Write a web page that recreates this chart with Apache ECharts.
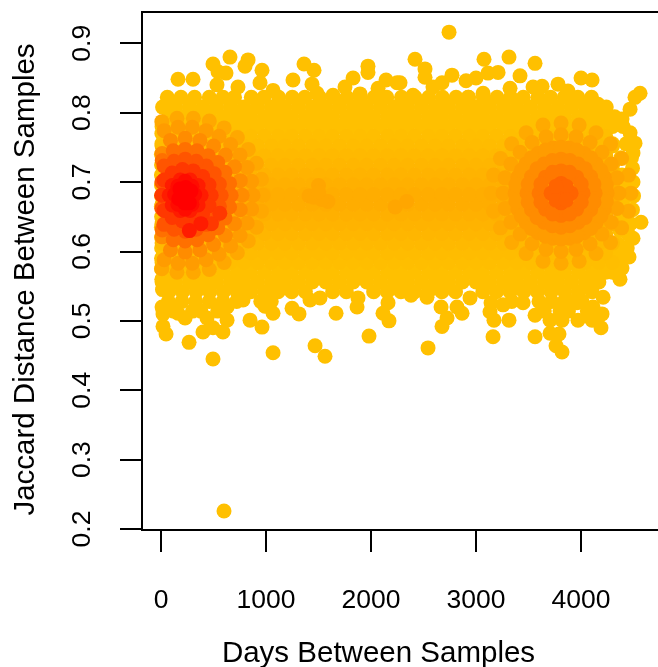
<!DOCTYPE html>
<html><head><meta charset="utf-8">
<style>html,body{margin:0;padding:0;background:#fff}#c{width:658px;height:667px}</style>
<script src="https://cdn.jsdelivr.net/npm/echarts@6/dist/echarts.min.js"></script>
</head><body><div id="c"></div>
<script>
const xTicks=[0,1000,2000,3000,4000];
const yTicks=[0.2,0.3,0.4,0.5,0.6,0.7,0.8,0.9];

// scattered outlying samples: [days, jaccard]
const outliers=[[600,.226],[162,.848],[305,.848],[495,.870],[657,.880],[829,.876],[800,.867],[543,.859],[619,.857],[962,.861],[533,.840],[943,.843],[1362,.870],[1457,.861],[1257,.847],[1438,.841],[1829,.850],[1971,.867],[1971,.858],[1752,.837],[1895,.827],[2143,.847],[2248,.843],[2067,.835],[733,.837],[1067,.832],[1638,.825],[1486,.828],
[2743,.916],[2419,.877],[2514,.863],[2514,.851],[3076,.877],[3314,.880],[3562,.871],[2771,.854],[2276,.843],[2676,.843],[2905,.846],[3000,.850],[3210,.858],[3114,.857],[3419,.853],[4000,.850],[4105,.847],[4562,.828],[4514,.822],[4467,.805],[4390,.791],[4162,.812],[3781,.841],[3629,.838],[3543,.837],[3876,.831],[3067,.828],[2924,.822],[3324,.835],[2590,.837],[2400,.825],[3962,.818],[4514,.756],[4495,.742],[4467,.771],
[4571,.642],[4495,.619],[4457,.592],[4390,.576],[4371,.560],[4200,.510],[4190,.490],[4105,.501],[3971,.501],[3819,.501],[3705,.501],[3705,.482],[3790,.481],[3762,.464],[3819,.455],[3562,.477],[3562,.508],[3314,.501],[3171,.501],[3162,.477],[3133,.513],[3143,.526],[3257,.523],[2676,.492],[2724,.504],[2867,.511],[2819,.520],[2667,.520],[2543,.461],[2943,.533],[2381,.537],[2533,.534],[3448,.526],[4210,.534],[4114,.520],[3962,.526],
[48,.481],[19,.492],[19,.510],[229,.504],[267,.469],[400,.484],[590,.484],[495,.490],[629,.501],[495,.445],[438,.504],[848,.501],[962,.491],[1067,.511],[990,.521],[1067,.454],[1314,.510],[1467,.464],[1562,.449],[1667,.511],[1867,.520],[1876,.533],[1981,.478],[2114,.511],[2171,.500],[2162,.526],[1248,.518],[1419,.530],[1514,.533],[781,.530],[629,.520],[10,.520],[162,.511],
[8,.770],[8,.755],[4,.740],[6,.725],[4,.710],[5,.695],[5,.680],[4,.665],[6,.650],[4,.635],[5,.620],[6,.605],[5,.590],[4,.575],[8,.560],[14,.545],[90,.740],[95,.610],[4480,.735],[4490,.720],[4495,.700],[4500,.680],[4490,.660],[4470,.640],[4450,.625],[4440,.605],[4380,.735],[4390,.710],[4400,.690],[4395,.670],[4385,.650],[4370,.630],[4360,.610],[4345,.590],[4430,.755],[4300,.755],[4330,.600]];

// days of the samples in each cloud row (two staggered sets)
const evenDays=[10,140,270,400,530,660,790,920,1050,1180,1310,1440,1570,1700,1830,1960,2090,2220,2350,2480,2610,2740,2870,3000,3130,3260,3390,3520,3650,3780,3910,4040,4170,4300];
const oddDays=[75,205,335,465,595,725,855,985,1115,1245,1375,1505,1635,1765,1895,2025,2155,2285,2415,2545,2675,2805,2935,3065,3195,3325,3455,3585,3715,3845,3975,4105,4235];
// outer rows: [jaccard, days...]
const rowsPale=[
[.822,60,190,320,460,590,700,860,980,1120,1250,1370,1510,1640,1770,1900,2030,2150,2290,2420,2550,2680,2810,2930,3070,3200,3330,3450,3590,3710,3840,3970,4100],
[.808,15,140,270,400,530,660,790,920,1050,1180,1310,1440,1570,1700,1830,1960,2090,2220,2350,2480,2610,2740,2870,3000,3130,3260,3390,3520,3650,3780,3910,4040,4170,4240],
[.794,...oddDays,4320],[.780,...evenDays,4400],
[.528,70,200,330,460,590,720,950,1050,3340,3600,3720,3840,3900,4010],
[.514,20,120,300,380,540,3650,3800,3880,4060],
[.542,75,205,335,465,595,725,855,985,1115,1245,1375,1635,1765,2025,2155,2285,2415,2545,2675,2805,3065,3195,3325,3455,3585,3715,3845,3975,4105],
[.556,...evenDays.slice(0,33)],[.570,...oddDays,4300]];
// inner rows from the rim to the centre, one shade each
const rowJaccard=[.584,.766,.598,.752,.612,.738,.626,.724,.640,.710,.654,.696,.668,.682];
const rowEven=[true,false,false,true,true,false,false,true,true,false,false,true,true,false];
const rowShade=['#FFBE00','#FFBE00','#FFBC00','#FFBC00','#FFB900','#FFB900','#FFB600','#FFB600','#FFB300','#FFB300','#FFB000','#FFB000','#FFAD00','#FFAD00'];

// small bumps in the middle of the cloud
const midBumps=[[1410,.680],[1590,.672],[1500,.695],[2230,.664],[2340,.672],[1455,.678],[1530,.675],[1500,.686]];

// early hot spot, outermost ring first
const early1=[[973,.681],[957,.704],[957,.658],[909,.727],[909,.635],[831,.747],[831,.615],[727,.764],[727,.598],[601,.778],[601,.584],[460,.788],[460,.574],[308,.792],[308,.570],[152,.792],[152,.570],[8,.787],[8,.575]];
const early2=[[877,.681],[863,.701],[863,.661],[821,.721],[821,.641],[753,.739],[753,.623],[663,.754],[663,.608],[553,.766],[553,.596],[430,.774],[430,.588],[298,.779],[298,.583],[162,.779],[162,.583],[30,.774],[30,.588]];
const early3=[[773,.681],[755,.702],[755,.660],[700,.722],[700,.640],[614,.739],[614,.623],[501,.752],[501,.610],[371,.760],[371,.602],[230,.763],[230,.599],[90,.760],[90,.602],[10,.741],[10,.621]];
const early4=[[668,.681],[653,.698],[653,.664],[609,.714],[609,.648],[540,.728],[540,.634],[449,.738],[449,.624],[343,.745],[343,.617],[230,.747],[230,.615],[117,.745],[117,.617],[12,.731],[12,.631]];
const early5=[[573,.681],[556,.697],[556,.665],[507,.712],[507,.650],[432,.723],[432,.639],[336,.730],[336,.632],[230,.733],[230,.629],[124,.730],[124,.632],[28,.723],[28,.639],[8,.700],[8,.662]];
const early6=[[478,.681],[457,.696],[457,.666],[396,.708],[396,.654],[307,.716],[307,.646],[204,.718],[204,.644],[106,.713],[106,.649],[29,.703],[29,.659],[6,.681],[480,.640],[560,.655]];
const early7=[[382,.681],[353,.695],[353,.667],[277,.703],[277,.659],[183,.703],[183,.659],[107,.695],[107,.667],[78,.681],[380,.640],[270,.630]];
const early8=[[320,.682],[295,.694],[295,.668],[230,.701],[230,.661],[160,.694],[160,.668],[130,.682]];
const early9=[[230,.681],[285,.687],[170,.676],[235,.692],[225,.670],[180,.690],[270,.670]];

// late hot spot, outermost ring first
const late1=[[4476,.684],[4453,.710],[4453,.658],[4387,.734],[4387,.634],[4281,.755],[4281,.613],[4143,.771],[4143,.597],[3982,.782],[3982,.586],[3810,.785],[3810,.583],[3638,.782],[3638,.586],[3477,.771],[3477,.597],[3339,.755],[3339,.613],[3233,.734],[3233,.634],[3167,.710],[3167,.658],[3144,.684]];
const late2=[[4362,.684],[4343,.706],[4343,.662],[4288,.726],[4288,.642],[4200,.743],[4200,.625],[4086,.757],[4086,.611],[3953,.765],[3953,.603],[3810,.768],[3810,.600],[3667,.765],[3667,.603],[3534,.757],[3534,.611],[3420,.743],[3420,.625],[3332,.726],[3332,.642],[3277,.706],[3277,.662],[3258,.684]];
const late3=[[4248,.684],[4222,.707],[4222,.661],[4146,.726],[4146,.642],[4029,.741],[4029,.627],[3886,.749],[3886,.619],[3734,.749],[3734,.619],[3591,.741],[3591,.627],[3474,.726],[3474,.642],[3398,.707],[3398,.661],[3372,.684],[4241,.696],[4241,.672],[4189,.717],[4189,.651],[4092,.735],[4092,.633],[3960,.746],[3960,.622],[3810,.750],[3810,.618],[3660,.746],[3660,.622],[3528,.735],[3528,.633],[3431,.717],[3431,.651],[3379,.696],[3379,.672]];
const late4=[[4134,.684],[4091,.708],[4091,.660],[3972,.726],[3972,.642],[3810,.733],[3810,.635],[3648,.726],[3648,.642],[3529,.708],[3529,.660],[3486,.684],[4123,.697],[4123,.671],[4039,.719],[4039,.649],[3894,.731],[3894,.637],[3726,.731],[3726,.637],[3581,.719],[3581,.649],[3497,.697],[3497,.671]];
const late5=[[4019,.684],[3958,.707],[3958,.661],[3810,.716],[3810,.652],[3662,.707],[3662,.661],[3601,.684],[4002,.697],[4002,.671],[3891,.714],[3891,.654],[3729,.714],[3729,.654],[3618,.697],[3618,.671]];
const late6=[[3905,.684],[3810,.698],[3810,.670],[3715,.684],[3810,.684],[3860,.694],[3760,.674],[3860,.674],[3760,.694]];

const expand=rows=>rows.flatMap(([y,...xs])=>xs.map(x=>[x,y]));
const layers=[
 ['#FFC000',[...expand(rowsPale),...outliers]],
 ...rowJaccard.map((y,i)=>[rowShade[i],expand([[y,...(rowEven[i]?evenDays:oddDays)]])]),
 ['#FFA600',midBumps],
 ['#FFAA00',late1],['#FFA400',late2],['#FF9C00',late3],['#FF8C00',late4],['#FF7800',late5],['#FF6400',late6],
 ['#FFA800',early1],['#FF9C00',early2],['#FF8C00',early3],['#FF7000',early4],['#FF5500',early5],
 ['#FF3800',early6],['#FF1C00',early7],['#FF0C00',early8],['#FF0000',early9]];

const font='"Liberation Sans",Helvetica,Arial,sans-serif';
const chart=echarts.init(document.getElementById('c'),null,{renderer:'canvas'});
chart.setOption({
 animation:false,backgroundColor:'#fff',
 grid:{left:142,top:12,width:518,height:518,outerBoundsMode:'none',containLabel:false,show:true,borderColor:'#000',borderWidth:2,backgroundColor:'transparent'},
 xAxis:{type:'value',min:-181,max:4752,splitLine:{show:false},
  axisLine:{show:true,onZero:false,lineStyle:{color:'#000',width:2}},
  axisTick:{show:true,length:22,lineStyle:{color:'#000',width:2},customValues:xTicks},
  axisLabel:{show:true,color:'#000',fontFamily:font,fontSize:26.5,margin:57,customValues:xTicks,formatter:v=>String(v)},
  name:'Days Between Samples',nameLocation:'middle',nameGap:109,
  nameTextStyle:{color:'#000',fontFamily:font,fontSize:29.5,padding:[0,45,0,0]}},
 yAxis:{type:'value',min:0.1986,max:0.945,splitLine:{show:false},
  axisLine:{show:true,onZero:false,lineStyle:{color:'#000',width:2}},
  axisTick:{show:true,length:22,lineStyle:{color:'#000',width:2},customValues:yTicks},
  axisLabel:{show:true,color:'#000',fontFamily:font,fontSize:26.5,margin:59,rotate:90,align:'center',verticalAlign:'middle',customValues:yTicks,formatter:v=>v.toFixed(1)},
  name:'Jaccard Distance Between Samples',nameLocation:'middle',nameGap:101,nameRotate:90,
  nameTextStyle:{color:'#000',fontFamily:font,fontSize:29.5,padding:[0,17,0,0]}},
 series:layers.map(([color,data])=>({type:'scatter',data,symbol:'circle',symbolSize:15,silent:true,
  itemStyle:{color,opacity:1,borderWidth:0},emphasis:{disabled:true}}))
});
</script></body></html>
